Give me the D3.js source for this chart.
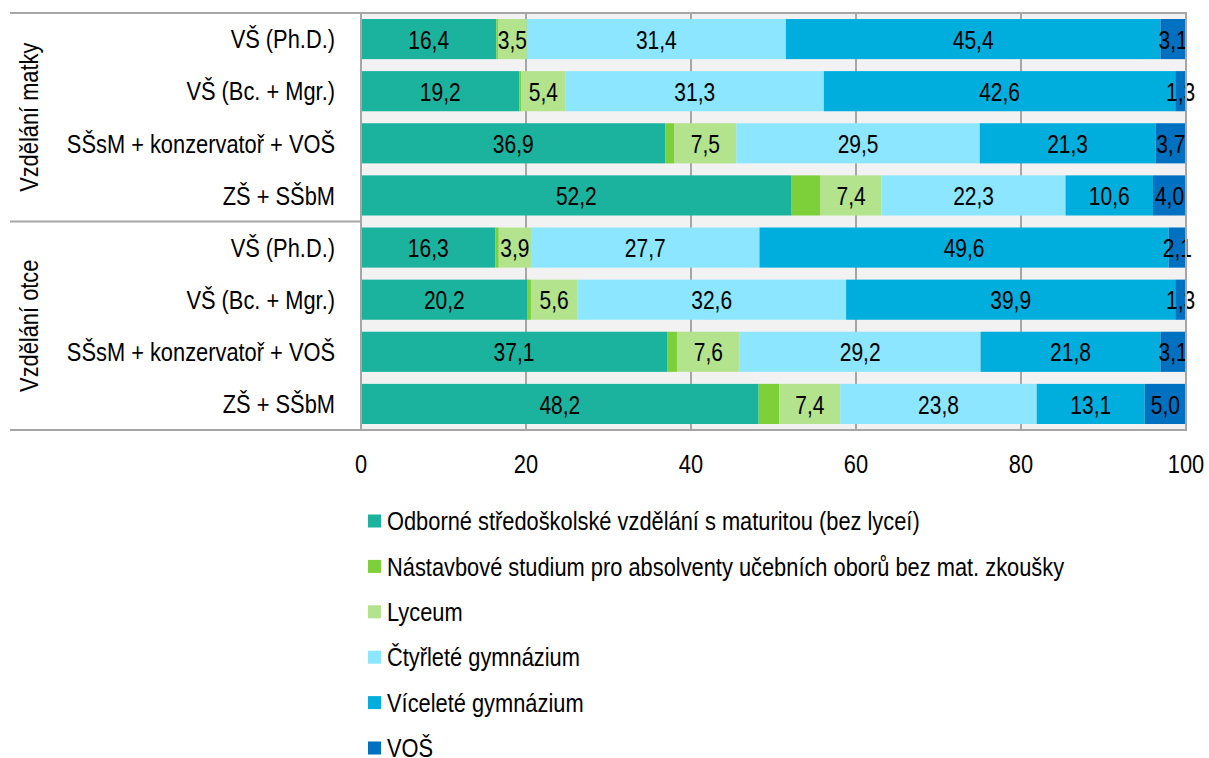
<!DOCTYPE html>
<html>
<head>
<meta charset="utf-8">
<script src="https://cdnjs.cloudflare.com/ajax/libs/d3/7.8.5/d3.min.js"></script>
<style>
	body { margin: 0; background: #fff; }
	svg text { font-family: "Liberation Sans Narrow", "Arial Narrow", "Liberation Sans", Arial, sans-serif; fill: #000; }
</style>
</head>
<body>
<script>

var categories = [
	"VŠ (Ph.D.)",
	"VŠ (Bc. + Mgr.)",
	"SŠsM + konzervatoř + VOŠ",
	"ZŠ + SŠbM",
	"VŠ (Ph.D.)",
	"VŠ (Bc. + Mgr.)",
	"SŠsM + konzervatoř + VOŠ",
	"ZŠ + SŠbM"
];

var groups = ["Vzdělání matky", "Vzdělání otce"];

var seriesNames = [
	"Odborné středoškolské vzdělání s maturitou (bez lyceí)",
	"Nástavbové studium pro absolventy učebních oborů bez mat. zkoušky",
	"Lyceum",
	"Čtyřleté gymnázium",
	"Víceleté gymnázium",
	"VOŠ"
];

var odborne    = [16.4, 19.2, 36.9, 52.2, 16.3, 20.2, 37.1, 48.2];
var nastavbove = [0.2, 0.2, 1.1, 3.5, 0.4, 0.4, 1.2, 2.5];
var lyceum     = [3.5, 5.4, 7.5, 7.4, 3.9, 5.6, 7.6, 7.4];
var ctyrlete   = [31.4, 31.3, 29.5, 22.3, 27.7, 32.6, 29.2, 23.8];
var vicelete   = [45.4, 42.6, 21.3, 10.6, 49.6, 39.9, 21.8, 13.1];
var vos        = [3.1, 1.3, 3.7, 4.0, 2.1, 1.3, 3.1, 5.0];

var seriesValues = [odborne, nastavbove, lyceum, ctyrlete, vicelete, vos];
var showLabels = [true, false, true, true, true, true];

var xTicks = [0, 20, 40, 60, 80, 100];

var colors = ["#1bb39e", "#7ed03b", "#b3e38c", "#8ce6ff", "#00aedd", "#0070c0"];

var width = 1209,
	height = 758;

var plot = {left: 361, right: 1186, top: 13, bottom: 430};

// the narrow font is not there, so squeeze the regular one
var narrow = 0.84;

function at(px, py) {
	return "translate(" + px + "," + py + ") scale(" + narrow + ",1)";
}

var svg = d3.select("body").append("svg")
	.attr("width", width)
	.attr("height", height);

var x = d3.scaleLinear()
	.domain([0, 100])
	.range([plot.left, plot.right]);

var y = d3.scaleBand()
	.domain(d3.range(categories.length))
	.range([plot.top, plot.bottom])
	.paddingInner(0.23)
	.paddingOuter(0.115);

// build stacked table
var table = categories.map(function(c, i) {
	var row = {idx: i};
	seriesNames.forEach(function(s, j) { row[s] = seriesValues[j][i]; });
	return row;
});

var stack = d3.stack().keys(seriesNames)(table);

// plot background
svg.append("rect")
	.attr("x", plot.left)
	.attr("y", plot.top)
	.attr("width", plot.right - plot.left)
	.attr("height", plot.bottom - plot.top)
	.style("fill", "#f2f2f2");

// gridlines
svg.append("g")
	.selectAll("line")
	.data(xTicks.slice(1, -1))
	.enter().append("line")
	.attr("x1", function(d) { return x(d); })
	.attr("x2", function(d) { return x(d); })
	.attr("y1", plot.top)
	.attr("y2", plot.bottom)
	.style("stroke", "#a6a6a6")
	.style("stroke-width", 2);

// bars
var layers = svg.append("g")
	.selectAll("g")
	.data(stack)
	.enter().append("g")
	.style("fill", function(d, i) { return colors[i]; });

layers.selectAll("rect")
	.data(function(d) { return d; })
	.enter().append("rect")
	.attr("x", function(d) { return x(d[0]); })
	.attr("y", function(d) { return y(d.data.idx); })
	.attr("width", function(d) { return x(d[1]) - x(d[0]); })
	.attr("height", y.bandwidth());

// value labels
layers.filter(function(d, i) { return showLabels[i]; })
	.selectAll("text")
	.data(function(d) { return d; })
	.enter().append("text")
	.attr("transform", function(d) {
		return at((x(d[0]) + x(d[1])) / 2, y(d.data.idx) + y.bandwidth() / 2 + 1);
	})
	.attr("text-anchor", "middle")
	.attr("dominant-baseline", "central")
	.style("font-size", "25px")
	.style("fill", "#000")
	.text(function(d) { return d3.format(".1f")(d[1] - d[0]).replace(".", ","); });

// plot border
svg.append("rect")
	.attr("x", plot.left)
	.attr("y", plot.top)
	.attr("width", plot.right - plot.left)
	.attr("height", plot.bottom - plot.top)
	.style("fill", "none")
	.style("stroke", "#a6a6a6")
	.style("stroke-width", 2);

// left header lines
var groupEdges = [plot.top, (y(3) + y.bandwidth() + y(4)) / 2, plot.bottom];

svg.append("g")
	.selectAll("line")
	.data(groupEdges)
	.enter().append("line")
	.attr("x1", 10)
	.attr("x2", plot.left)
	.attr("y1", function(d) { return d; })
	.attr("y2", function(d) { return d; })
	.style("stroke", "#a6a6a6")
	.style("stroke-width", 2);

// category labels
svg.append("g")
	.selectAll("text")
	.data(categories)
	.enter().append("text")
	.attr("transform", function(d, i) { return at(335, y(i) + y.bandwidth() / 2); })
	.attr("text-anchor", "end")
	.attr("dominant-baseline", "central")
	.style("font-size", "26px")
	.text(function(d) { return d; });

// group labels
svg.append("g")
	.selectAll("text")
	.data(groups)
	.enter().append("text")
	.attr("transform", function(d, i) {
		return "translate(29," + (groupEdges[i] + groupEdges[i + 1]) / 2 + ") rotate(-90) scale(" + narrow + ",1)";
	})
	.attr("text-anchor", "middle")
	.attr("dominant-baseline", "central")
	.style("font-size", "26px")
	.text(function(d) { return d; });

// x axis labels
svg.append("g")
	.selectAll("text")
	.data(xTicks)
	.enter().append("text")
	.attr("transform", function(d) { return at(x(d), 464); })
	.attr("text-anchor", "middle")
	.attr("dominant-baseline", "central")
	.style("font-size", "26px")
	.text(function(d) { return d; });

// legend
var legend = svg.append("g")
	.selectAll("g")
	.data(seriesNames)
	.enter().append("g")
	.attr("transform", function(d, i) { return "translate(368," + (521 + i * 45.4) + ")"; });

legend.append("rect")
	.attr("x", 0)
	.attr("y", -6.5)
	.attr("width", 13)
	.attr("height", 13)
	.style("fill", function(d, i) { return colors[i]; });

legend.append("text")
	.attr("transform", at(19, 0))
	.attr("dominant-baseline", "central")
	.style("font-size", "26px")
	.text(function(d) { return d; });

</script>
</body>
</html>
